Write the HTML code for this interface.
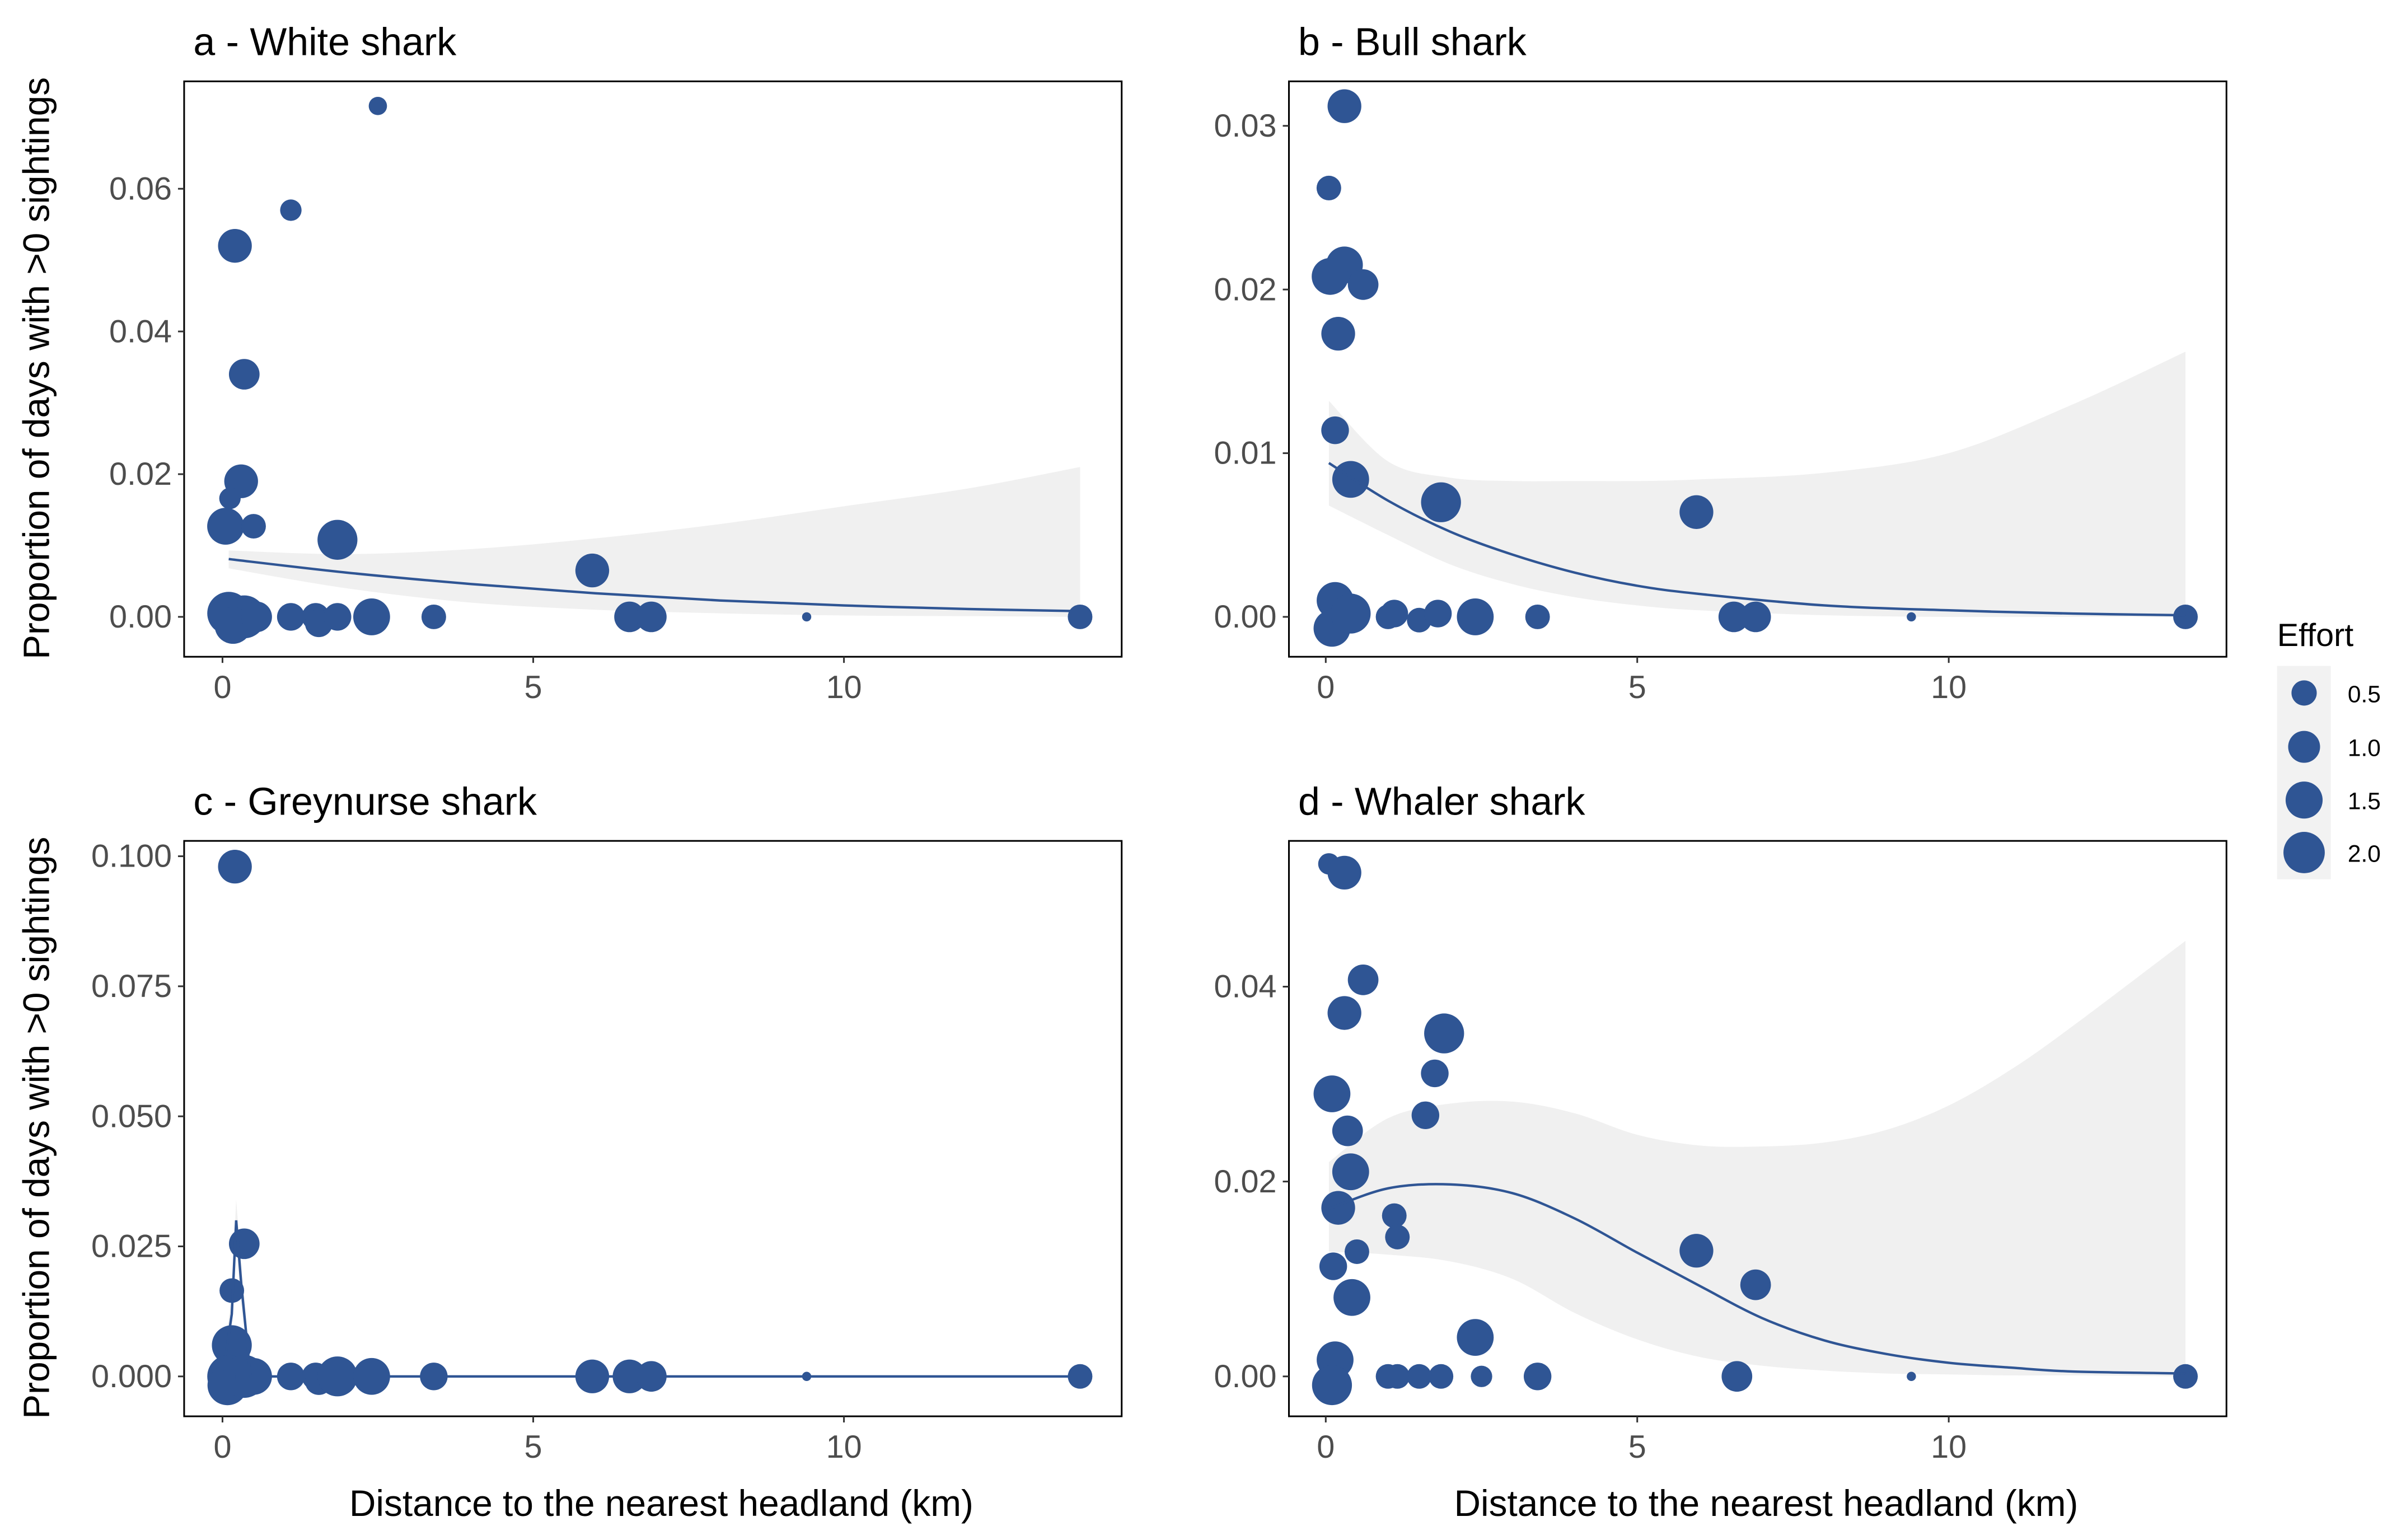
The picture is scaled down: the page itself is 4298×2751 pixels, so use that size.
<!DOCTYPE html>
<html><head><meta charset="utf-8"><style>
html,body{margin:0;padding:0;background:#fff;}
svg{display:block;font-family:"Liberation Sans",Arial,sans-serif;}
</style></head><body>
<svg id="chart" width="4298" height="2751" viewBox="0 0 1568 1003.6" xmlns="http://www.w3.org/2000/svg"></svg>
<script>
// ---------- DATA ----------
// points: [distance km, proportion, effort]
const ptsA = [[2.5,.0716,.16],[1.1,.057,.29],[0.2,.052,1.17],[0.35,.034,.89],[0.3,.019,1.17],[0.12,.0166,.29],[0.05,.0127,1.48],[0.5,.0127,.46],[1.85,.0108,1.83],[5.95,.0065,1.17],
 [0.1,.0005,2.2],[0.35,0,2.2],[0.17,-.0012,1.48],[0.55,0,.89],[1.1,0,.66],[1.5,0,.66],[1.55,-.0009,.66],[1.85,0,.66],[2.4,0,1.48],[3.4,0,.46],[6.55,0,.89],[6.9,0,.89],[9.4,0,0],[13.8,0,.46]];
const ptsB = [[0.3,.0312,1.17],[0.05,.0262,.46],[0.3,.0215,1.48],[0.07,.0208,1.48],[0.6,.0203,.89],[0.2,.0173,1.17],[0.15,.0114,.66],[0.4,.0084,1.48],[1.85,.007,1.83],[5.95,.0064,1.17],
 [0.15,.001,1.48],[0.1,-.0007,1.48],[0.4,.0002,1.83],[1.0,0,.46],[1.1,.0002,.66],[1.5,-.0002,.46],[1.8,.0002,.66],[2.4,0,1.48],[3.4,0,.46],[6.55,0,.89],[6.9,0,.89],[9.4,0,0],[13.8,0,.46]];
const ptsC = [[0.2,.098,1.17],[0.35,.0255,.89],[0.15,.0165,.46],[0.15,.006,1.83],
 [0.1,0,2.2],[0.08,-.0017,1.83],[0.35,0,2.2],[0.5,0,1.48],[1.1,0,.66],[1.5,0,.66],[1.55,-.0009,.66],[1.85,0,1.83],[2.4,0,1.48],[3.4,0,.66],[5.95,0,1.17],[6.55,0,1.17],[6.9,0,.89],[9.4,0,0],[13.8,0,.46]];
const ptsD = [[0.05,.0526,.29],[0.3,.0517,1.17],[0.6,.0407,.89],[0.3,.0373,1.17],[1.9,.0352,1.83],[1.75,.0311,.66],[0.1,.029,1.48],[1.6,.0268,.66],[0.35,.0252,.89],[0.4,.021,1.48],[0.2,.0173,1.17],[1.1,.0165,.46],[1.15,.0143,.46],[0.12,.0113,.66],[0.5,.0128,.46],[5.95,.0129,1.17],[6.9,.0094,.89],[0.42,.0081,1.48],[2.4,.004,1.48],[0.15,.0017,1.48],
 [0.1,-.0009,1.83],[1.0,0,.46],[1.15,0,.46],[1.5,0,.46],[1.85,0,.46],[2.5,0,.29],[3.4,0,.66],[6.6,0,.89],[9.4,0,0],[13.8,0,.46]];

// fitted curves and confidence ribbons
const fitXA = [0.1,2,4,6,8,10,12,13.8];
const fitYA = [.0081,.0062,.0046,.0033,.0023,.0016,.0011,.0008];
const hiA   = [.0093,.0088,.0095,.0110,.0130,.0155,.0180,.0210];
const loA   = [.0068,.0040,.0020,.0010,.0005,.0002,.0001,.0000];

const fitXB = [0.05,1,2,3,4,5,6,8,10,12,13.8];
const fitYB = [.0094,.0071,.0052,.0038,.0027,.0019,.0014,.0007,.0004,.0002,.0001];
const hiB   = [.0132,.0095,.0085,.0083,.0083,.0083,.0084,.0088,.0100,.0130,.0162];
const loB   = [.0068,.0050,.0032,.0020,.0012,.0007,.0004,.0001,0,0,0];

const fitXC = [0.05,0.15,0.22,0.3,0.45,0.6,1,13.8];
const fitYC = [.004,.012,.030,.018,.000,0,0,0];
const hiC   = [.006,.016,.034,.022,.002,0,0,0];
const loC   = [.002,.008,.026,.014,.000,0,0,0];

const fitXD = [0.05,1,2,3,4,5,6,7,8,9,10,11,12,13.8];
const fitYD = [.0172,.0193,.0197,.0188,.0162,.0127,.0093,.0060,.0037,.0023,.0014,.0009,.0005,.0003];
const hiD   = [.0220,.0265,.0280,.0282,.0270,.0248,.0237,.0236,.0240,.0253,.0278,.0315,.0360,.0447];
const loD   = [.0128,.0125,.0118,.0100,.0065,.0038,.0020,.0011,.0006,.0003,.0002,.0001,.0001,0];

const xTicks = [0,5,10];
const yTicksA = [0,.02,.04,.06], yLabA = ["0.00","0.02","0.04","0.06"];
const yTicksB = [0,.01,.02,.03], yLabB = ["0.00","0.01","0.02","0.03"];
const yTicksC = [0,.025,.05,.075,.1], yLabC = ["0.000","0.025","0.050","0.075","0.100"];
const yTicksD = [0,.02,.04], yLabD = ["0.00","0.02","0.04"];
const legendEfforts = [0.5,1.0,1.5,2.0];
const legendLabels = ["0.5","1.0","1.5","2.0"];

// ---------- DRAW ----------
const NS = "http://www.w3.org/2000/svg";
const svg = document.getElementById('chart');
const COL = "#2f5594";
function mk(tag, attrs, parent){ const e=document.createElementNS(NS,tag); for(const k in attrs) e.setAttribute(k,attrs[k]); (parent||svg).appendChild(e); return e; }
function rOf(e){ return 3 + 7.4*Math.sqrt(Math.max(0,e)); }
function smooth(pts, linear){
  if(linear) return "M"+pts.map(p=>p[0].toFixed(2)+","+p[1].toFixed(2)).join("L");
  let d="M"+pts[0][0]+","+pts[0][1];
  for(let i=0;i<pts.length-1;i++){
    const p0=pts[Math.max(0,i-1)],p1=pts[i],p2=pts[i+1],p3=pts[Math.min(pts.length-1,i+2)];
    const c1=[p1[0]+(p2[0]-p0[0])/6,p1[1]+(p2[1]-p0[1])/6];
    const c2=[p2[0]-(p3[0]-p1[0])/6,p2[1]-(p3[1]-p1[1])/6];
    d+="C"+c1[0].toFixed(2)+","+c1[1].toFixed(2)+" "+c2[0].toFixed(2)+","+c2[1].toFixed(2)+" "+p2[0].toFixed(2)+","+p2[1].toFixed(2);
  }
  return d;
}

function panel(cfg){
  const {id,x0,x1,y0,y1,xZero,xPer5,yZero,yTop,yTopVal,title,pts,fx,fy,hi,lo,yt,yl,linear} = cfg;
  const g = mk('g',{});  
  const X = v => xZero + v*xPer5/5;
  const Y = v => yZero - v*(yZero-yTop)/yTopVal;
  const clipId='clip-'+id;
  const cp=mk('clipPath',{id:clipId},g); mk('rect',{x:x0,y:y0,width:x1-x0,height:y1-y0},cp);
  const inner=mk('g',{'clip-path':'url(#'+clipId+')'},g);
  const up=fx.map((x,i)=>[X(x),Y(hi[i])]);
  const dn=fx.map((x,i)=>[X(x),Y(lo[i])]).reverse();
  const rib=mk('path',{d:smooth(up,linear)+smooth(dn,linear).replace("M","L")+"Z",fill:"#f0f0f0",stroke:"none"},inner);
   
  pts.forEach(p=>{
    const c=mk('circle',{cx:X(p[0]),cy:Y(p[1]),r:rOf(p[2]),fill:COL},inner);
     
  });
  const ln=mk('path',{d:smooth(fx.map((x,i)=>[X(x),Y(fy[i])]),linear),fill:"none",stroke:COL,"stroke-width":1.6},inner);
   
  const fr=mk('rect',{x:x0,y:y0,width:x1-x0,height:y1-y0,fill:"none",stroke:"#000","stroke-width":1.1},g);
   
  xTicks.forEach(t=>{
    mk('line',{x1:X(t),x2:X(t),y1:y1,y2:y1+4,stroke:"#333","stroke-width":1.1},g);
    const tx=mk('text',{x:X(t),y:y1+27,"text-anchor":"middle","font-size":21,fill:"#4d4d4d"},g); tx.textContent=t;
     
  });
  yt.forEach((t,i)=>{
    mk('line',{x1:x0-4,x2:x0,y1:Y(t),y2:Y(t),stroke:"#333","stroke-width":1.1},g);
    const tx=mk('text',{x:x0-8,y:Y(t)+7,"text-anchor":"end","font-size":21,fill:"#4d4d4d"},g); tx.textContent=yl[i];
     
  });
  const tt=mk('text',{x:x0+6,y:y0-17,"font-size":25.5,fill:"#000"},g); tt.textContent=title;
   
}

panel({id:'a',x0:120,x1:731,y0:53,y1:428,xZero:145,xPer5:202.5,yZero:402,yTop:123,yTopVal:.06,title:"a - White shark",pts:ptsA,fx:fitXA,fy:fitYA,hi:hiA,lo:loA,yt:yTicksA,yl:yLabA});
panel({id:'b',x0:840,x1:1451,y0:53,y1:428,xZero:864,xPer5:203,yZero:402,yTop:82,yTopVal:.03,title:"b - Bull shark",pts:ptsB,fx:fitXB,fy:fitYB,hi:hiB,lo:loB,yt:yTicksB,yl:yLabB});
panel({id:'c',x0:120,x1:731,y0:548,y1:923,xZero:145,xPer5:202.5,yZero:897,yTop:558,yTopVal:.1,title:"c - Greynurse shark",pts:ptsC,fx:fitXC,fy:fitYC,hi:hiC,lo:loC,yt:yTicksC,yl:yLabC,linear:true});
panel({id:'d',x0:840,x1:1451,y0:548,y1:923,xZero:864,xPer5:203,yZero:897,yTop:643,yTopVal:.04,title:"d - Whaler shark",pts:ptsD,fx:fitXD,fy:fitYD,hi:hiD,lo:loD,yt:yTicksD,yl:yLabD});

[[240],[735]].forEach(c=>{
  const t=mk('text',{x:0,y:0,transform:"translate(32,"+c[0]+") rotate(-90)","text-anchor":"middle","font-size":24,fill:"#000"});
  t.textContent="Proportion of days with >0 sightings";
   
});
[431,1151].forEach(cx=>{
  const t=mk('text',{x:cx,y:988,"text-anchor":"middle","font-size":24,fill:"#000"});
  t.textContent="Distance to the nearest headland (km)";
   
});

const lg=mk('g',{});  
const lt=mk('text',{x:1484,y:421,"font-size":21,fill:"#000"},lg); lt.textContent="Effort";
 
mk('rect',{x:1484,y:434,width:35,height:139,fill:"#f2f2f2"},lg);
const legY=[451.6,486.7,521.4,555.6];
legendEfforts.forEach((e,i)=>{
  const c=mk('circle',{cx:1501.6,cy:legY[i],r:rOf(e),fill:COL},lg);
   
  const t=mk('text',{x:1530,y:legY[i]+6,"font-size":15.5,fill:"#000"},lg); t.textContent=legendLabels[i];
   
});
</script>
</body></html>
